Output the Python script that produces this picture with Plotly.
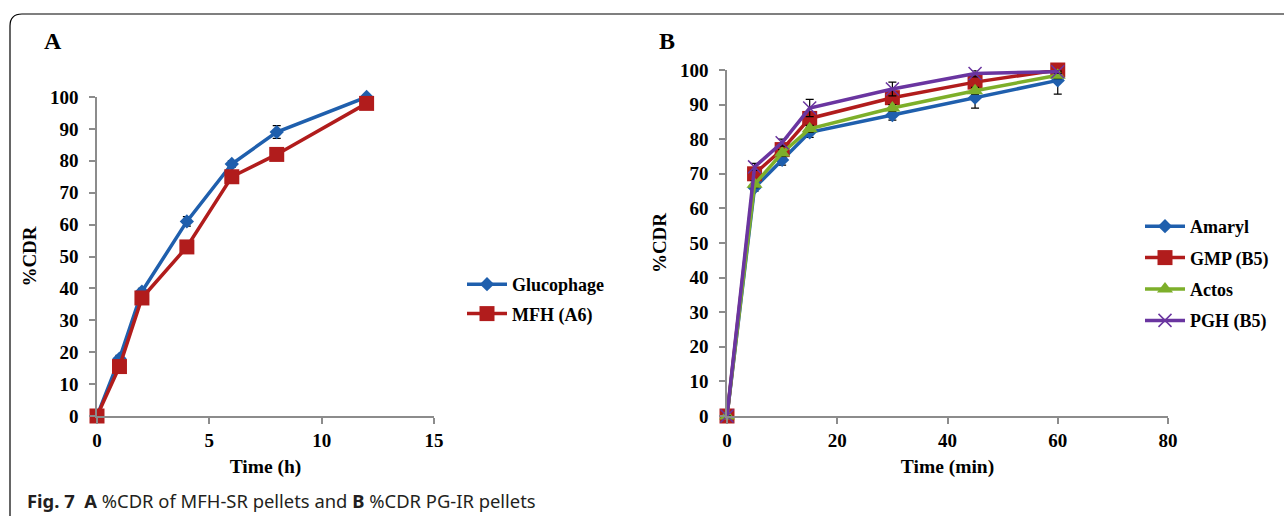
import plotly.graph_objects as go

W, H = 1284, 516

# Panel A data
time_h = [0, 1, 2, 4, 6, 8, 12]
glucophage = [0, 18, 39, 61, 79, 89, 100]
glucophage_err = [0, 1, 1, 1.5, 1, 2, 0.5]
mfh_a6 = [0, 15.5, 37, 53, 75, 82, 98]
mfh_a6_err = [0, 0.5, 0.5, 0.5, 0.5, 0.5, 0.5]

# Panel B data
time_min = [0, 5, 10, 15, 30, 45, 60]
amaryl = [0, 66, 74, 82, 87, 92, 97]
amaryl_err = [0, 1, 1.5, 1.5, 1.5, 3, 4]
gmp_b5 = [0, 70, 77, 86, 92, 96.5, 100]
gmp_b5_err = [0, 1, 1, 1, 1, 1, 1]
actos = [0, 67, 76, 83, 89, 94, 98.5]
actos_err = [0, 1, 1, 1, 1, 1, 1]
pgh_b5 = [0, 72, 79, 89, 94.5, 99, 99.5]
pgh_b5_err = [0, 1, 1, 2.5, 2, 1, 0.5]

xticks_a = [0, 5, 10, 15]
xticks_b = [0, 20, 40, 60, 80]
yticks = list(range(0, 101, 10))

BLUE = "#1F5FAD"
RED = "#B11C1C"
GREEN = "#7DAF2A"
PURPLE = "#6A35A0"

SERIF = "Liberation Serif"

def px_x(x):
    return x / W

def px_y(y):
    return (H - y) / H

fig = go.Figure()

def add(x, y, err, name, color, symbol, size, xa, ya, legend, mline=0):
    fig.add_trace(go.Scatter(
        x=x, y=y, name=name, mode="lines+markers",
        line=dict(color=color, width=3.5),
        marker=dict(symbol=symbol, size=size, color=color,
                    line=dict(width=mline, color=color)),
        error_y=dict(type="data", array=err, visible=True, color="black",
                     thickness=1.2, width=4),
        xaxis=xa, yaxis=ya, legend=legend, legendgroup=name, cliponaxis=False,
    ))

add(time_h, glucophage, glucophage_err, "Glucophage", BLUE, "diamond", 11, "x", "y", "legend")
add(time_h, mfh_a6, mfh_a6_err, "MFH (A6)", RED, "square", 15, "x", "y", "legend")

add(time_min, amaryl, amaryl_err, "Amaryl", BLUE, "diamond", 11, "x2", "y2", "legend2")
add(time_min, gmp_b5, gmp_b5_err, "GMP (B5)", RED, "square", 15, "x2", "y2", "legend2")
add(time_min, actos, actos_err, "Actos", GREEN, "triangle-up", 14, "x2", "y2", "legend2")
add(time_min, pgh_b5, pgh_b5_err, "PGH (B5)", PURPLE, "x-thin", 13, "x2", "y2", "legend2", mline=1.5)

axis_common = dict(
    showline=True, linecolor="#8C8C8C", linewidth=1.5,
    ticks="outside", tickcolor="#8C8C8C", ticklen=6, tickwidth=1.5,
    showgrid=False, zeroline=False, automargin=False,
    tickfont=dict(family=SERIF, size=19, color="black", weight="bold"),
)
xtitle_font = dict(family=SERIF, size=19.5, color="black", weight="bold")
ytitle_font = dict(family=SERIF, size=19, color="black", weight="bold")
legend_font = dict(family=SERIF, size=18, color="black", weight="bold")

fig.update_layout(
    width=W, height=H, autosize=False,
    margin=dict(l=0, r=0, t=0, b=0, pad=0, autoexpand=False),
    paper_bgcolor="white", plot_bgcolor="white",
    font=dict(family=SERIF, color="black"),
    xaxis=dict(domain=[px_x(97), px_x(434)], range=[0, 15], tickvals=xticks_a,
               anchor="y",
               title=dict(text="Time (h)", font=xtitle_font, standoff=10),
               **axis_common),
    yaxis=dict(domain=[px_y(416), px_y(97)], range=[0, 100], tickvals=yticks,
               anchor="x", ticklabelstandoff=7,
               title=dict(text="%CDR", font=ytitle_font, standoff=8),
               **axis_common),
    xaxis2=dict(domain=[px_x(727), px_x(1168)], range=[0, 80], tickvals=xticks_b,
                anchor="y2",
                title=dict(text="Time (min)", font=xtitle_font, standoff=10),
                **axis_common),
    yaxis2=dict(domain=[px_y(416), px_y(70)], range=[0, 100], tickvals=yticks,
                anchor="x2", ticklabelstandoff=7,
                title=dict(text="%CDR", font=ytitle_font, standoff=8),
                **axis_common),
    legend=dict(x=px_x(462), y=px_y(266), xanchor="left", yanchor="top",
                font=legend_font, bgcolor="rgba(0,0,0,0)", itemwidth=40,
                tracegroupgap=3),
    legend2=dict(x=px_x(1140), y=px_y(208), xanchor="left", yanchor="top",
                 font=legend_font, bgcolor="rgba(0,0,0,0)", itemwidth=40,
                 tracegroupgap=5),
    showlegend=True,
)

# Panel letters
fig.add_annotation(text="<b>A</b>", x=px_x(42), y=px_y(41), xref="paper", yref="paper",
                   xanchor="left", yanchor="middle", showarrow=False,
                   font=dict(family=SERIF, size=24, color="black"))
fig.add_annotation(text="<b>B</b>", x=px_x(657), y=px_y(41), xref="paper", yref="paper",
                   xanchor="left", yanchor="middle", showarrow=False,
                   font=dict(family=SERIF, size=24, color="black"))

# Caption
fig.add_annotation(text="<b>Fig. 7</b>  <b>A</b> %CDR of MFH-SR pellets and <b>B</b> %CDR PG-IR pellets",
                   x=px_x(25), y=px_y(500), xref="paper", yref="paper",
                   xanchor="left", yanchor="middle", showarrow=False,
                   font=dict(family="Noto Sans", size=18.4, color="#231F20"))

# Rounded frame (top-left corner)
path = (f"M {px_x(10)},{px_y(520)} L {px_x(10)},{px_y(26)} "
        f"Q {px_x(10)},{px_y(14)} {px_x(22)},{px_y(14)} L {px_x(1290)},{px_y(14)}")
fig.add_shape(type="path", path=path, xref="paper", yref="paper",
              line=dict(color="black", width=1.2))

fig.write_html("out.html", config={"displayModeBar": False},
               post_script="document.body.style.margin='0';document.body.style.overflow='hidden';")
